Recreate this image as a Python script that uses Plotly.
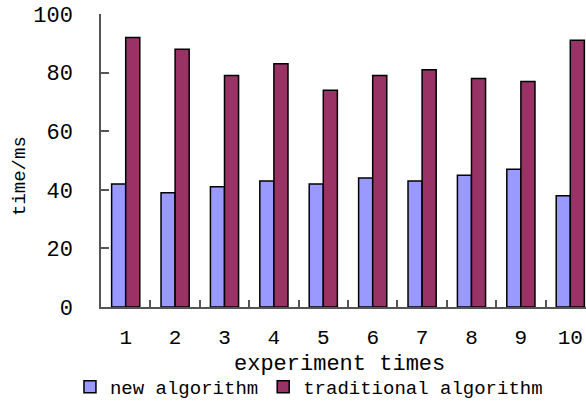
import plotly.graph_objects as go

categories = ["1", "2", "3", "4", "5", "6", "7", "8", "9", "10"]
new_algorithm = [42, 39, 41, 43, 42, 44, 43, 45, 47, 38]
traditional_algorithm = [92, 88, 79, 83, 74, 79, 81, 78, 77, 91]
y_ticks = [0, 20, 40, 60, 80, 100]

FONT = "Liberation Mono"

fig = go.Figure()
fig.add_trace(go.Bar(
    x=categories, y=new_algorithm, name="new algorithm",
    marker=dict(color="#9999FF", line=dict(color="#000000", width=1.5)),
))
fig.add_trace(go.Bar(
    x=categories, y=traditional_algorithm, name="traditional algorithm",
    marker=dict(color="#993366", line=dict(color="#000000", width=1.5)),
))

fig.update_layout(
    width=586, height=401,
    margin=dict(l=101, r=0, t=14, b=94, autoexpand=False),
    paper_bgcolor="white", plot_bgcolor="white",
    barmode="group", bargap=0.43, bargroupgap=0,
    font=dict(family=FONT, color="#000000"),
    showlegend=True,
    legend=dict(
        orientation="h", x=-0.064, xanchor="left", y=(307 - 387) / 293, yanchor="middle",
        font=dict(family=FONT, size=19), itemwidth=30, tracegroupgap=0,
        bgcolor="rgba(0,0,0,0)",
    ),
    annotations=[
        dict(text="experiment times", x=(339 - 101) / 485, xref="paper", y=(307 - 364) / 293, yref="paper",
             showarrow=False, font=dict(family=FONT, size=22), xanchor="center", yanchor="middle"),
        dict(text="time/ms", x=-(101 - 20) / 485, xref="paper", y=(307 - 176) / 293, yref="paper",
             showarrow=False, font=dict(family=FONT, size=19), textangle=-90,
             xanchor="center", yanchor="middle"),
    ],
)

fig.update_xaxes(
    type="category", range=[-0.5, 9.318],
    showline=True, linecolor="#555555", linewidth=1.5,
    ticks="inside", tickson="boundaries", ticklen=7, tickcolor="#555555", tickwidth=1.5,
    tickfont=dict(family=FONT, size=21), ticklabelstandoff=10,
    showgrid=False, zeroline=False,
)
fig.update_yaxes(
    range=[0, 100], tickvals=y_ticks,
    showline=True, linecolor="#555555", linewidth=1.5,
    ticks="inside", ticklen=8, tickcolor="#555555", tickwidth=1.5,
    tickfont=dict(family=FONT, size=22), ticklabelstandoff=22,
    showgrid=False, zeroline=False,
)

fig.write_html("out.html", config={"displayModeBar": False})

# remove the browser's default body margin so the figure sits at the page origin
with open("out.html", "r", encoding="utf-8") as f:
    html = f.read()
html = html.replace("<body>", '<body style="margin:0;padding:0;overflow:hidden">', 1)
with open("out.html", "w", encoding="utf-8") as f:
    f.write(html)
